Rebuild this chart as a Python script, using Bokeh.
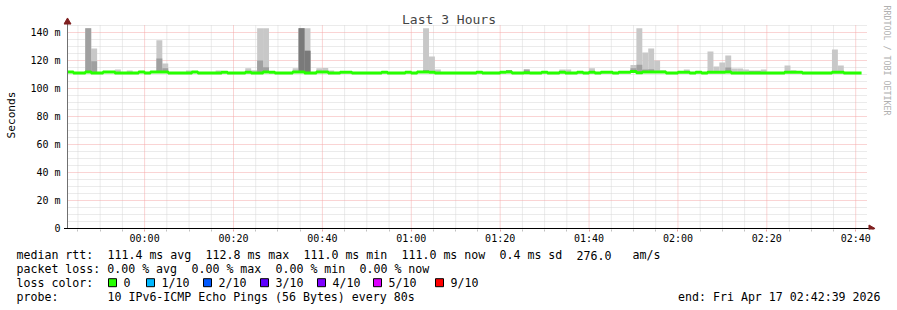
import re
import math
import numpy as np
from bokeh.plotting import figure
from bokeh.models import Range1d, FixedTicker, DatetimeTickFormatter, Label, ColumnDataSource
from bokeh.core.properties import value
from bokeh.embed import file_html
from bokeh.resources import INLINE

# ---------------- data ----------------
end_time = "2026-04-17T02:42:39"
span_hours = 3
step_seconds = 80

# median rtt per 80 s step (ms)
median_rtt = [
    111.7, 111.0, 111.0, 111.7, 111.0, 111.0, 111.7, 111.7, 111.0, 111.0,
    111.0, 111.0, 111.7, 111.0, 111.7, 111.7, 111.7, 111.0, 111.0, 111.0,
    111.0, 111.7, 111.0, 111.0, 111.0, 111.0, 111.6, 111.0, 111.0, 111.0,
    111.6, 111.0, 111.0, 111.7, 111.6, 111.0, 111.0, 111.0, 111.7, 111.7,
    111.0, 111.0, 111.7, 111.7, 111.0, 111.0, 111.6, 111.6, 111.0, 111.0,
    111.0, 111.0, 111.0, 111.6, 111.0, 111.0, 111.0, 111.6, 111.0, 111.7,
    111.7, 111.6, 111.0, 111.0, 111.0, 111.0, 111.0, 111.0, 111.0, 111.6,
    111.0, 111.0, 111.0, 111.6, 111.7, 111.0, 111.0, 111.2, 111.0, 111.0,
    111.6, 111.0, 111.0, 111.6, 111.0, 111.0, 111.6, 111.0, 111.6, 111.0,
    111.6, 111.6, 111.0, 111.6, 111.6, 112.2, 111.2, 111.8, 111.8, 111.7,
    111.7, 111.0, 111.0, 111.6, 111.6, 111.0, 111.6, 111.0, 111.6, 111.6,
    111.6, 111.7, 111.0, 111.0, 111.0, 111.0, 111.0, 111.0, 111.0, 111.0,
    111.0, 111.6, 111.6, 111.6, 111.0, 111.0, 111.0, 111.0, 111.0, 111.6,
    111.6, 111.0, 111.0, 111.0,
]

# smoke: highest ping (light), inner pings (medium), innermost (dark), ms
light_steps = [3, 4, 8, 10, 15, 16, 20, 25, 30, 31, 32, 33, 38, 39, 40, 42, 43, 44,
               60, 61, 62, 74, 77, 83, 84, 88, 95, 96, 97, 98, 99, 100, 104,
               108, 109, 110, 111, 112, 113, 114, 115, 116, 117, 121, 122, 129, 130]
light_top = [143.0, 128.6, 113.6, 112.9, 134.5, 117.9, 112.9, 112.9, 114.5, 113.0,
             143.0, 143.0, 114.5, 143.0, 143.0, 114.5, 114.7, 112.9,
             143.0, 122.9, 113.6, 113.3, 113.6, 113.6, 113.6, 114.5, 116.7, 143.0,
             125.7, 128.6, 120.0, 113.0, 113.6,
             126.4, 115.7, 118.6, 123.6, 114.3, 114.3, 113.6, 112.8, 112.8, 113.6,
             116.4, 113.0, 127.9, 116.4]
mid_steps = [3, 4, 15, 16, 32, 33, 39, 40, 60, 74, 77, 95, 96, 97, 98, 111, 115, 116]
mid_top = [143.0, 119.5, 121.4, 114.5, 120.0, 115.2, 143.0, 127.0, 113.3, 113.3,
           113.6, 114.5, 117.0, 113.5, 113.8, 115.0, 112.3, 112.3]
dark_steps = [39, 40]
dark_top = [143.0, 127.0]

y_ticks = [0, 20, 40, 60, 80, 100, 120, 140]
y_tick_labels = ["0", "20 m", "40 m", "60 m", "80 m", "100 m", "120 m", "140 m"]
y_max = 145
x_tick_labels = ["00:00", "00:20", "00:40", "01:00", "01:20", "01:40", "02:00", "02:20", "02:40"]
x_tick_day = "2026-04-17"

title_text = "Last 3 Hours"
y_title = "Seconds"
watermark = "RRDTOOL / TOBI OETIKER"
legend_lines = [
    "median rtt:  111.4 ms avg  112.8 ms max  111.0 ms min  111.0 ms now  0.4 ms sd  276.0   am/s",
    "packet loss: 0.00 % avg  0.00 % max  0.00 % min  0.00 % now",
    "loss color:",
    "probe:       10 IPv6-ICMP Echo Pings (56 Bytes) every 80s",
]
end_text = "end: Fri Apr 17 02:42:39 2026"
loss_labels = ["0", "1/10", "2/10", "3/10", "4/10", "5/10", "9/10"]
loss_colors = ["#26ff00", "#00b8ff", "#0059ff", "#5e00ff", "#7e00ff", "#dd00ff", "#ff0000"]

# ---------------- layout ----------------
W = 897
H_MAIN, H_LEG = 248, 62
X0, X1, Y0, Y1 = 67, 867, 228, 25          # plot area (pixels)
FL, FR, FT, FB = 63, 897, 0, 229          # bokeh frame (pixels)
MONO = "DejaVu Sans Mono"
CW = 7.0
LEG_X = 16
LEG_MID = [254.5, 268.3, 282.2, 296.0]
SWATCH_X = [108, 146, 203, 260, 317, 373, 435]
SWATCH = 8
SMOKE = ["#c8c8c8", "#a0a0a0", "#7a7a7a"]
GREEN = "#26ff00"
ARROW = "#7f1f1f"
MINOR_GRID = "#d6d6d6"
MAJOR_GRID = "#f5a8a8"


def ms(t):
    return float((np.datetime64(t) - np.datetime64("1970-01-01T00:00:00")) / np.timedelta64(1, "ms"))


t_end = ms(end_time)
t_start = t_end - span_hours * 3600 * 1000
ms_per_px = (t_end - t_start) / (X1 - X0)
v_per_px = y_max / (Y0 - Y1)
n = len(median_rtt)
edges = t_start + np.arange(n + 1) * step_seconds * 1000.0
med = np.array(median_rtt)


def px_x(px):
    return t_start + (px - X0) * ms_per_px


def px_y(py):
    return (Y0 - py) * v_per_px


p = figure(width=W, height=H_MAIN, x_axis_type="datetime", output_backend="svg",
           toolbar_location=None,
           x_range=Range1d(px_x(FL), px_x(FR)), y_range=Range1d(px_y(FB), px_y(FT)),
           min_border_left=FL, min_border_right=W - FR, min_border_top=FT,
           min_border_bottom=H_MAIN - FB)
p.title.visible = False
p.outline_line_color = None
p.background_fill_color = "white"
p.border_fill_color = "white"
p.xgrid.visible = False
p.ygrid.visible = False

# ticks / axes
x_ticks = [ms(f"{x_tick_day}T{s}:00") for s in x_tick_labels]
x_all = []
t = x_ticks[0] - 20 * 60000
while t < t_end:
    if t > t_start:
        x_all.append(t)
    t += 5 * 60000
x_minor = [v for v in x_all if v not in x_ticks]
xt = FixedTicker(ticks=x_ticks, minor_ticks=x_minor)
y_minor = [v for v in range(5, y_max + 1, 5) if v not in y_ticks]
yt = FixedTicker(ticks=y_ticks, minor_ticks=[])

xa = p.xaxis[0]
xa.ticker = xt
xa.formatter = DatetimeTickFormatter(seconds="%H:%M", minsec="%H:%M", minutes="%H:%M",
                                     hourmin="%H:%M", hours="%H:%M", days="%H:%M")
xa.major_label_overrides = {k: v for k, v in zip(x_ticks, x_tick_labels)}
ya = p.yaxis[0]
ya.ticker = yt
ya.major_label_overrides = {k: v for k, v in zip(y_ticks, y_tick_labels)}

for ax in (xa, ya):
    ax.major_label_text_font = MONO
    ax.major_label_text_font_size = "10px"
    ax.major_label_text_color = "black"
    ax.axis_line_color = None
    ax.major_tick_in = 0
    ax.minor_tick_in = 0
xa.major_tick_out = 2
xa.minor_tick_out = 2
xa.major_tick_line_color = "#e8a0a0"
xa.minor_tick_line_color = "#c0c0c0"
xa.major_label_standoff = 1
ya.major_tick_out = 0
ya.minor_tick_out = 0
ya.major_tick_line_color = None
ya.minor_tick_line_color = None
ya.major_label_standoff = 3
ya.axis_label = y_title
ya.axis_label_text_font = MONO
ya.axis_label_text_font_size = "11.2px"
ya.axis_label_text_font_style = "normal"
ya.axis_label_text_color = "black"
ya.axis_label_standoff = 9

# grid (dotted), limited to the plot area
p.segment(x0=x_minor, y0=[0] * len(x_minor), x1=x_minor, y1=[y_max] * len(x_minor),
          line_color=MINOR_GRID, line_width=1, line_dash="1 1")
p.segment(x0=[t_start] * len(y_minor), y0=y_minor, x1=[t_end] * len(y_minor), y1=y_minor,
          line_color=MINOR_GRID, line_width=1, line_dash="1 1")
p.segment(x0=x_ticks, y0=[0] * len(x_ticks), x1=x_ticks, y1=[y_max] * len(x_ticks),
          line_color=MAJOR_GRID, line_width=1, line_dash="1 1")
yg = y_ticks[1:]
p.segment(x0=[t_start] * len(yg), y0=yg, x1=[t_end] * len(yg), y1=yg,
          line_color=MAJOR_GRID, line_width=1, line_dash="1 1")

# smoke layers
for steps, tops, col in ((light_steps, light_top, SMOKE[0]),
                         (mid_steps, mid_top, SMOKE[1]),
                         (dark_steps, dark_top, SMOKE[2])):
    s = np.array(steps)
    p.quad(left=edges[s], right=edges[s + 1], bottom=med[s] - 0.5, top=np.array(tops),
           fill_color=col, line_color=None)

# median line
p.step(x=edges, y=np.append(med, med[-1]), mode="after", line_color=GREEN, line_width=3)

# axis lines and arrows
p.segment(x0=[t_start], y0=[0], x1=[t_start], y1=[px_y(21)], line_color="#707070", line_width=1)
p.segment(x0=[px_x(63.5)], y0=[0], x1=[px_x(869)], y1=[0], line_color="black", line_width=1)
p.scatter(x=[t_start], y=[px_y(21.5)], marker="triangle", size=7, fill_color=ARROW,
          line_color=ARROW)
p.scatter(x=[px_x(870.5)], y=[0], marker="triangle", angle=-math.pi / 2, size=7,
          fill_color=ARROW, line_color=ARROW)

# title and watermark
p.add_layout(Label(x=px_x(W / 2), y=px_y(19), text=title_text, text_font=MONO,
                   text_font_size="13px", text_align="center", text_baseline="middle"))
p.add_layout(Label(x=px_x(886), y=px_y(5), text=watermark, text_font=MONO,
                   text_font_size="8.3px", text_align="left", text_baseline="middle",
                   text_color="#b0b0b0", angle=-math.pi / 2))

# ---------------- legend block (separate root below the chart) ----------------
q = figure(width=W, height=H_LEG, output_backend="svg", toolbar_location=None,
           x_range=Range1d(0, W), y_range=Range1d(H_MAIN + H_LEG, H_MAIN),
           min_border=0, x_axis_location=None, y_axis_location=None)
q.title.visible = False
q.outline_line_color = None
q.grid.visible = False
q.background_fill_color = "white"
q.border_fill_color = "white"

tx, ty, tt, ta = [], [], [], []
for line, mid in zip(legend_lines, LEG_MID):
    for m in re.finditer(r"\S+(?: \S+)*", line):
        tx.append(LEG_X + m.start() * CW)
        ty.append(mid)
        tt.append(m.group(0))
        ta.append("left")
for sx, lab in zip(SWATCH_X, loss_labels):
    tx.append(sx + 15)
    ty.append(LEG_MID[2])
    tt.append(lab)
    ta.append("left")
tx.append(880)
ty.append(LEG_MID[3])
tt.append(end_text)
ta.append("right")
q.text(x="x", y="y", text="t", text_align="a",
       source=ColumnDataSource(dict(x=tx, y=ty, t=tt, a=ta)),
       text_font=value(MONO), text_font_size=value("11.6px"), text_baseline="middle",
       text_color="black")
sx = np.array(SWATCH_X, dtype=float)
q.quad(left=sx, right=sx + SWATCH, top=[LEG_MID[2] - SWATCH / 2] * len(sx),
       bottom=[LEG_MID[2] + SWATCH / 2] * len(sx),
       fill_color=loss_colors, line_color="black", line_width=1)

open("out.html", "w").write(file_html([p, q], INLINE))
